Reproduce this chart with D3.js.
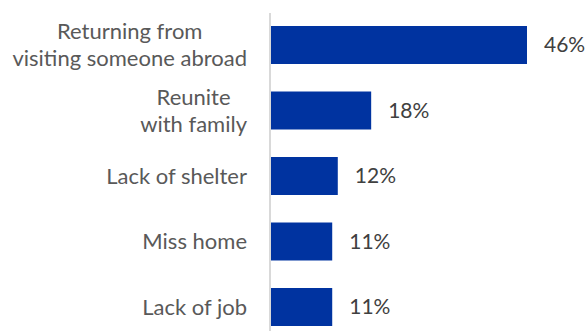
<!DOCTYPE html>
<html>
<head>
<meta charset="utf-8">
<script src="https://cdn.jsdelivr.net/npm/d3@7"></script>
<style>
  html, body { margin: 0; padding: 0; background: #fff; }
  svg { display: block; }
  text { font-family: "Lato", "Open Sans", sans-serif; fill: #595959; }
  .value { fill: #404040; }
</style>
</head>
<body>
<svg id="chart" width="585" height="331"></svg>
<script>
// Reasons for returning, share of respondents (%)
const categories = [
  "Returning from\nvisiting someone abroad",
  "Reunite\nwith family",
  "Lack of shelter",
  "Miss home",
  "Lack of job"
];
const values = [46, 18, 12, 11, 11];
const valueLabels = ["46%", "18%", "12%", "11%", "11%"];

const svg = d3.select("#chart");
const fontSize = 22;
const valueFontSize = 21;
const lineHeight = 27;
const labelRight = 247;

const y = d3.scaleBand()
  .domain(categories)
  .range([12.25, 339.75])
  .paddingInner(0.42)
  .paddingOuter(0.21);

const x = d3.scaleLinear()
  .domain([0, 46])
  .range([271, 527]);

// Bars
svg.append("g").selectAll("rect")
  .data(categories)
  .join("rect")
  .attr("x", x(0))
  .attr("y", d => y(d))
  .attr("width", (d, i) => x(values[i]) - x(0))
  .attr("height", y.bandwidth())
  .attr("fill", "#0033A0");

// Category axis line
svg.append("line")
  .attr("x1", 270).attr("x2", 270)
  .attr("y1", 13).attr("y2", 331)
  .attr("stroke", "#d9d9d9")
  .attr("stroke-width", 2);

// Category labels: multi-line labels are centred within a right-aligned block
const labels = svg.append("g").attr("font-size", fontSize);
categories.forEach(c => {
  const lines = c.split("\n");
  const g = labels.append("g");
  const texts = lines.map((ln, k) => g.append("text")
    .attr("y", y(c) + y.bandwidth() / 2 + (k - (lines.length - 1) / 2) * lineHeight)
    .attr("dy", "0.35em")
    .text(ln));
  const widths = texts.map(t => t.node().getComputedTextLength());
  const maxW = d3.max(widths);
  texts.forEach(t => t.attr("x", labelRight - maxW / 2).attr("text-anchor", "middle"));
});

// Value labels
svg.append("g").attr("font-size", valueFontSize)
  .selectAll("text")
  .data(categories)
  .join("text")
  .attr("class", "value")
  .attr("x", (d, i) => x(values[i]) + 17)
  .attr("y", d => y(d) + y.bandwidth() / 2)
  .attr("dy", "0.35em")
  .text((d, i) => valueLabels[i]);
</script>
</body>
</html>
